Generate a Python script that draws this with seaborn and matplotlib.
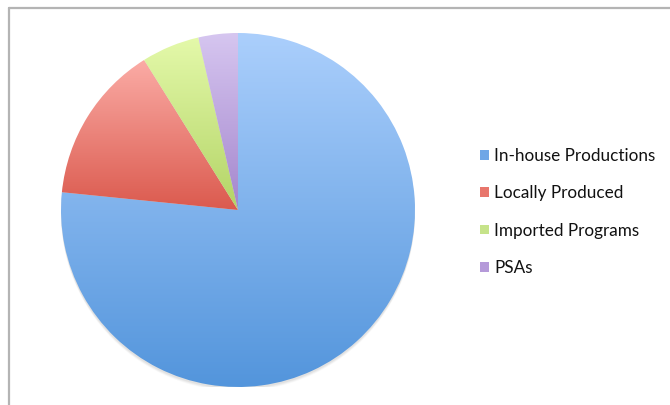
import numpy as np
import matplotlib
matplotlib.use("Agg")
import matplotlib.pyplot as plt
import seaborn as sns
from matplotlib.colors import LinearSegmentedColormap
from matplotlib.patches import Patch, Circle
from matplotlib.lines import Line2D

# data (share of programming, %)
labels = ["In-house Productions", "Locally Produced", "Imported Programs", "PSAs"]
shares = [76.6, 14.5, 5.3, 3.6]

# light (top) -> dark (bottom) shade of each slice
tops = ["#abcffc", "#fbaca6", "#e4f9aa", "#d6c6f0"]
bottoms = ["#5395dc", "#db5a4e", "#b3d466", "#a486cd"]
mids = ["#6fa6e6", "#e8766c", "#c6e38a", "#b59ad9"]

sns.set_theme(style="white")
plt.rcParams["font.family"] = ["Lato", "DejaVu Sans"]

fig = plt.figure(figsize=(6.7, 4.05), dpi=100)
fig.patch.set_facecolor("white")

# outer frame (only top and left edges are visible)
W, H = 670, 405
fig.add_artist(Line2D([9 / W, 9 / W], [0, 1 - 8 / H], transform=fig.transFigure,
                      color="#b4b4b4", lw=1.6))
fig.add_artist(Line2D([9 / W, 1], [1 - 8 / H, 1 - 8 / H], transform=fig.transFigure,
                      color="#b4b4b4", lw=1.6))

cx, cy, r = 238, 210, 177
ax = fig.add_axes([(cx - r) / W, (H - cy - r) / H, 2 * r / W, 2 * r / H])
ax.set_axis_off()

# soft shadow under the pie
for k, a in zip([4, 3, 2], [0.06, 0.08, 0.10]):
    ax.add_patch(Circle((0, -k / r), 1.0, color="#808080", alpha=a, lw=0, zorder=0))

wedges, _ = ax.pie(shares, startangle=90, counterclock=False, radius=1.0,
                   wedgeprops=dict(linewidth=0))

for w, c0, c1 in zip(wedges, tops, bottoms):
    w.set_facecolor("none")
    th = np.radians(np.linspace(w.theta1, w.theta2, 200))
    ys = np.concatenate([np.sin(th), [0.0]])
    cmap = LinearSegmentedColormap.from_list("g", [c0, c1])
    grad = np.linspace(0, 1, 256).reshape(-1, 1)
    im = ax.imshow(grad, cmap=cmap, extent=(-1.05, 1.05, ys.min(), ys.max()),
                   origin="upper", aspect="auto", zorder=1, interpolation="bilinear")
    im.set_clip_path(w)

ax.set_xlim(-1, 1)
ax.set_ylim(-1, 1)

handles = [Patch(facecolor=c, edgecolor="none") for c in mids]
fig.legend(handles, labels, loc="center left", bbox_to_anchor=(465 / W, 1 - 212 / H),
           frameon=False, fontsize=12.3, handlelength=0.52, handleheight=0.5,
           handletextpad=0.3, labelspacing=1.24, labelcolor="#111111")

fig.savefig("out.png", dpi=100)
